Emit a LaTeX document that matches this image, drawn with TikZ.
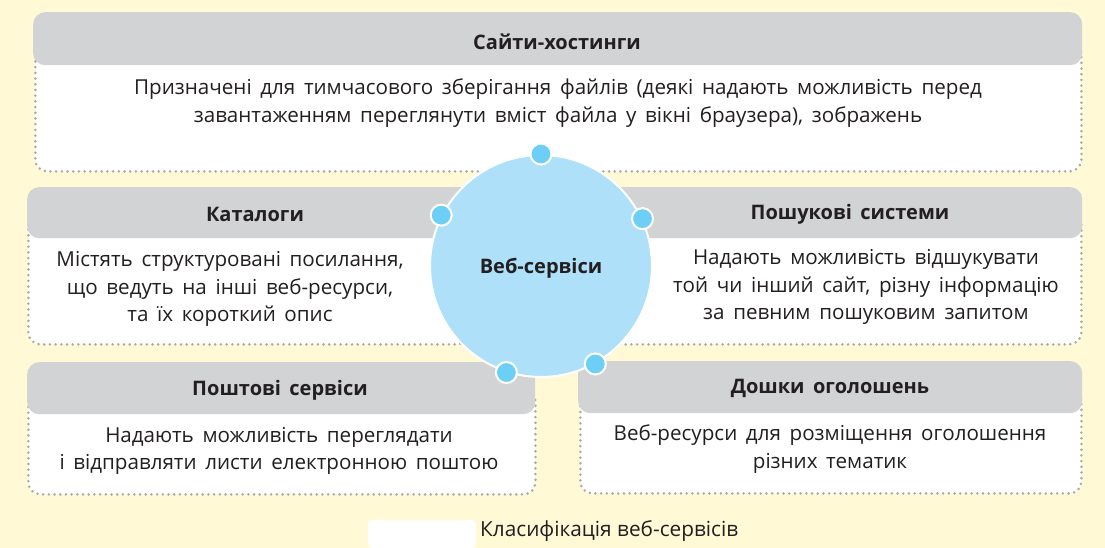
\documentclass[tikz,border=0pt]{standalone}
\usepackage{fontspec}
\setmainfont{Open Sans}
\definecolor{bgy}{HTML}{FFF9D6}
\definecolor{hdrgray}{HTML}{D1D3D4}
\definecolor{dotgray}{HTML}{A7A9AC}
\definecolor{circblue}{HTML}{AEE1F9}
\definecolor{dotblue}{HTML}{6DCFF6}
\definecolor{ink}{HTML}{231F20}
\newcommand{\widespaces}{\spaceskip=0.42em plus 0.05em\relax}
\begin{document}
\begin{tikzpicture}[x=1pt,y=-1pt,
  hdr/.style={fill=hdrgray, rounded corners=12pt, draw=none, inner sep=0pt, anchor=north west},
  bodybox/.style={fill=white, draw=dotgray, line width=2.8pt, dash pattern=on 0pt off 5.7pt, line cap=round, rounded corners=12pt, inner sep=0pt, anchor=north west},
  hdrtxt/.style={font=\fontsize{20}{24}\selectfont\bfseries\widespaces, text=ink, inner sep=0pt},
  bodytxt/.style={font=\fontsize{20.6}{27.5}\selectfont\widespaces, text=ink, align=center, inner sep=0pt},
  hub/.style={circle, fill=circblue, draw=white, line width=2pt, minimum size=222pt, inner sep=0pt},
  knob/.style={circle, fill=dotblue, draw=white, line width=2pt, minimum size=21pt, inner sep=0pt}
]
\useasboundingbox (0,0) rectangle (1105,548);
\fill[bgy] (0,0) rectangle (1105,548);

% top box
\node[bodybox, minimum width=1046pt, minimum height=130pt] (b1) at (34,40) {};
\node[hdr, minimum width=1049pt, minimum height=53pt] (h1) at (33,12) {};
\node[hdrtxt] (h1t) at (557,42) {Сайти-хостинги};
\node[bodytxt] (t1) at (558,103) {Призначені для тимчасового зберігання файлів (деякі надають можливість перед\\завантаженням переглянути вміст файла у вікні браузера), зображень};

% row 2 left
\node[bodybox, minimum width=440pt, minimum height=131pt] (b2) at (27,212) {};
\node[hdr, minimum width=456pt, minimum height=51pt] (h2) at (27,187) {};
\node[hdrtxt] (h2t) at (255,214) {Каталоги};
\node[bodytxt] (t2) at (230,289) {Містять структуровані посилання,\\що ведуть на інші веб-ресурси,\\та їх короткий опис};

% row 2 right
\node[bodybox, minimum width=470pt, minimum height=131pt] (b3) at (610,212) {};
\node[hdr, minimum width=472pt, minimum height=51pt] (h3) at (610,187) {};
\node[hdrtxt] (h3t) at (850,214) {Пошукові системи};
\node[bodytxt] (t3) at (866,287) {Надають можливість відшукувати\\той чи інший сайт, різну інформацію\\за певним пошуковим запитом};

% row 3 left
\node[bodybox, minimum width=507pt, minimum height=105pt] (b4) at (27,388) {};
\node[hdr, minimum width=508pt, minimum height=52pt] (h4) at (27,362) {};
\node[hdrtxt] (h4t) at (280,390) {Поштові сервіси};
\node[bodytxt] (t4) at (279,451) {Надають можливість переглядати\\і відправляти листи електронною поштою};

% row 3 right
\node[bodybox, minimum width=501pt, minimum height=105pt] (b5) at (579,387) {};
\node[hdr, minimum width=504pt, minimum height=52pt] (h5) at (578,361) {};
\node[hdrtxt] (h5t) at (830,388) {Дошки оголошень};
\node[bodytxt] (t5) at (830,449) {Веб-ресурси для розміщення оголошення\\різних тематик};

% hub
\node[hub] (c) at (541,266) {};
\node[hdrtxt] (ct) at (541,268) {Веб-сервіси};
\node[knob] (k1) at (c.90) {};
\node[knob] (k2) at (c.153) {};
\node[knob] (k3) at (c.25) {};
\node[knob] (k4) at (c.-108) {};
\node[knob] (k5) at (c.-61) {};

% caption
\fill[white, rounded corners=4pt] (368,520) rectangle (476,548);
\node[font=\fontsize{20.8}{24}\selectfont, text=ink, anchor=west, inner sep=0pt] (cap) at (480,531) {Класифікація веб-сервісів};
\end{tikzpicture}
\end{document}
